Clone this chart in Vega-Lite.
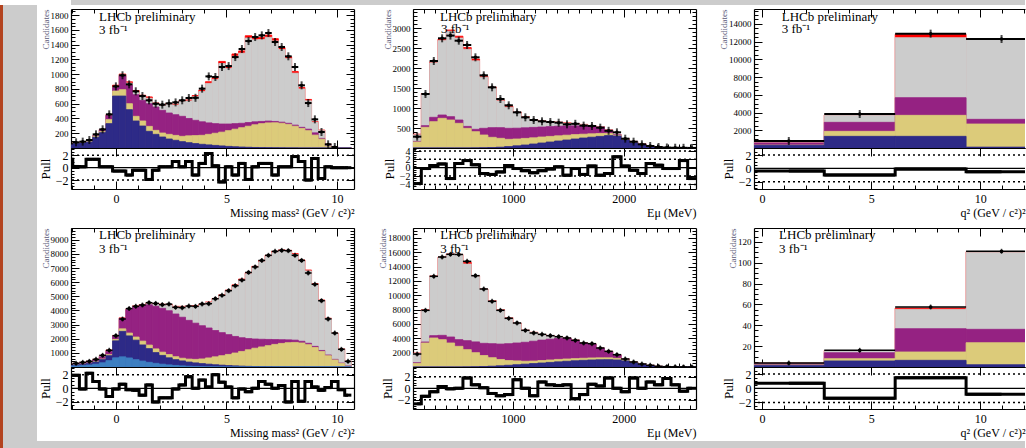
{
"$schema":"https://vega.github.io/schema/vega-lite/v6.json",
"padding":0,
"background":"#ffffff",
"columns":8,
"spacing":0,
"bounds":"flush",
"align":"each",
"config":{
"view":{"stroke":null},
"axis":{"grid":false,"domainColor":"#000000","domainWidth":1.2,"tickColor":"#000000","tickWidth":1,"labelFont":"Liberation Serif","titleFont":"Liberation Serif","labelColor":"#000000","titleColor":"#000000","titleFontWeight":"normal","zindex":1,"labelOverlap":false,"labelFlush":false,"format":"d"},
"text":{"font":"Liberation Serif"}
},
"datasets":{
"L2":[{"yv":-2},{"yv":2}],
"L4":[{"yv":-4},{"yv":-2},{"yv":2},{"yv":4}],
"a":[
{"lo":-2.25,"hi":-1.95,"c":-2.1,"m5":50,"m4":54,"m3":58,"m2":60,"m1":62,"d":62,"u":1.35},
{"lo":-1.95,"hi":-1.65,"c":-1.8,"m5":59,"m4":63,"m3":68,"m2":70,"m1":72,"d":77,"u":0.2},
{"lo":-1.65,"hi":-1.35,"c":-1.5,"m5":68,"m4":72,"m3":78,"m2":80,"m1":82,"d":86,"u":0.15},
{"lo":-1.35,"hi":-1.05,"c":-1.2,"m5":80,"m4":86,"m3":93,"m2":95,"m1":97,"d":108,"u":1.35},
{"lo":-1.05,"hi":-0.75,"c":-0.9,"m5":145,"m4":155,"m3":163,"m2":166,"m1":168,"d":185,"u":1.35},
{"lo":-0.75,"hi":-0.45,"c":-0.6,"m5":208,"m4":222,"m3":245,"m2":248,"m1":251,"d":253,"u":0.15},
{"lo":-0.45,"hi":-0.15,"c":-0.3,"m5":330,"m4":384,"m3":442,"m2":448,"m1":452,"d":456,"u":0.15},
{"lo":-0.15,"hi":0.15,"c":0,"m5":704,"m4":772,"m3":818,"m2":822,"m1":851,"d":835,"u":-0.55},
{"lo":0.15,"hi":0.45,"c":0.3,"m5":704,"m4":790,"m3":984,"m2":990,"m1":1002,"d":985,"u":-0.55},
{"lo":0.45,"hi":0.75,"c":0.6,"m5":519,"m4":600,"m3":848,"m2":880,"m1":897,"d":862,"u":-1.2},
{"lo":0.75,"hi":1.05,"c":0.9,"m5":366,"m4":429,"m3":722,"m2":760,"m1":779,"d":768,"u":-0.4},
{"lo":1.05,"hi":1.35,"c":1.2,"m5":298,"m4":366,"m3":645,"m2":700,"m1":715,"d":704,"u":-0.4},
{"lo":1.35,"hi":1.65,"c":1.5,"m5":226,"m4":293,"m3":600,"m2":675,"m1":692,"d":646,"u":-1.9},
{"lo":1.65,"hi":1.95,"c":1.8,"m5":185,"m4":239,"m3":555,"m2":598,"m1":610,"d":600,"u":-0.4},
{"lo":1.95,"hi":2.25,"c":2.1,"m5":149,"m4":203,"m3":510,"m2":572,"m1":583,"d":587,"u":0.15},
{"lo":2.25,"hi":2.55,"c":2.4,"m5":122,"m4":185,"m3":474,"m2":590,"m1":601,"d":605,"u":0.15},
{"lo":2.55,"hi":2.85,"c":2.7,"m5":104,"m4":171,"m3":451,"m2":582,"m1":593,"d":618,"u":1.0},
{"lo":2.85,"hi":3.15,"c":3.0,"m5":86,"m4":158,"m3":429,"m2":630,"m1":642,"d":646,"u":0.15},
{"lo":3.15,"hi":3.45,"c":3.3,"m5":72,"m4":165,"m3":400,"m2":638,"m1":651,"d":677,"u":1.0},
{"lo":3.45,"hi":3.75,"c":3.6,"m5":60,"m4":168,"m3":375,"m2":695,"m1":711,"d":680,"u":-1.2},
{"lo":3.75,"hi":4.05,"c":3.9,"m5":50,"m4":172,"m3":355,"m2":765,"m1":784,"d":804,"u":0.7},
{"lo":4.05,"hi":4.35,"c":4.2,"m5":42,"m4":185,"m3":340,"m2":876,"m1":898,"d":970,"u":2.3},
{"lo":4.35,"hi":4.65,"c":4.5,"m5":35,"m4":200,"m3":330,"m2":930,"m1":953,"d":962,"u":0.3},
{"lo":4.65,"hi":4.95,"c":4.8,"m5":28,"m4":215,"m3":325,"m2":1145,"m1":1173,"d":1097,"u":-2.3},
{"lo":4.95,"hi":5.25,"c":5.1,"m5":22,"m4":235,"m3":325,"m2":1078,"m1":1105,"d":1110,"u":0.15},
{"lo":5.25,"hi":5.55,"c":5.4,"m5":17,"m4":255,"m3":330,"m2":1244,"m1":1274,"d":1232,"u":-1.2},
{"lo":5.55,"hi":5.85,"c":5.7,"m5":13,"m4":275,"m3":335,"m2":1285,"m1":1315,"d":1341,"u":0.7},
{"lo":5.85,"hi":6.15,"c":6.0,"m5":10,"m4":295,"m3":345,"m2":1490,"m1":1521,"d":1449,"u":-1.9},
{"lo":6.15,"hi":6.45,"c":6.3,"m5":7,"m4":315,"m3":355,"m2":1467,"m1":1497,"d":1503,"u":0.15},
{"lo":6.45,"hi":6.75,"c":6.6,"m5":5,"m4":330,"m3":360,"m2":1469,"m1":1499,"d":1526,"u":0.7},
{"lo":6.75,"hi":7.05,"c":6.9,"m5":4,"m4":340,"m3":365,"m2":1500,"m1":1530,"d":1558,"u":0.7},
{"lo":7.05,"hi":7.35,"c":7.2,"m5":3,"m4":342,"m3":360,"m2":1451,"m1":1481,"d":1436,"u":-1.2},
{"lo":7.35,"hi":7.65,"c":7.5,"m5":2,"m4":335,"m3":350,"m2":1334,"m1":1362,"d":1368,"u":0.15},
{"lo":7.65,"hi":7.95,"c":7.8,"m5":1,"m4":320,"m3":335,"m2":1211,"m1":1237,"d":1242,"u":0.15},
{"lo":7.95,"hi":8.25,"c":8.1,"m5":1,"m4":295,"m3":310,"m2":1014,"m1":1037,"d":1097,"u":1.8},
{"lo":8.25,"hi":8.55,"c":8.4,"m5":0,"m4":265,"m3":280,"m2":800,"m1":820,"d":849,"u":1.0},
{"lo":8.55,"hi":8.85,"c":8.7,"m5":0,"m4":235,"m3":255,"m2":640,"m1":658,"d":609,"u":-2.0},
{"lo":8.85,"hi":9.15,"c":9.0,"m5":0,"m4":175,"m3":205,"m2":350,"m1":358,"d":388,"u":1.5},
{"lo":9.15,"hi":9.45,"c":9.3,"m5":0,"m4":120,"m3":130,"m2":235,"m1":243,"d":217,"u":-1.75},
{"lo":9.45,"hi":9.75,"c":9.6,"m5":0,"m4":20,"m3":25,"m2":48,"m1":50,"d":50,"u":0.15},
{"lo":9.75,"hi":10.05,"c":9.9,"m5":0,"m4":3,"m3":4,"m2":12,"m1":14,"d":14,"u":0},
{"lo":10.05,"hi":10.35,"c":10.2,"m5":0,"m4":0,"m3":0,"m2":2,"m1":2,"d":null,"u":0},
{"lo":10.35,"hi":10.65,"c":10.5,"m5":0,"m4":0,"m3":0,"m2":1,"m1":1,"d":null,"u":0}
],
"b":[
{"lo":100,"hi":175,"c":137.5,"m5":0,"m4":150,"m3":165,"m2":330,"m1":345,"d":283,"u":-3.8},
{"lo":175,"hi":250,"c":212.5,"m5":0,"m4":517,"m3":558,"m2":1345,"m1":1360,"d":1350,"u":-0.2},
{"lo":250,"hi":325,"c":287.5,"m5":0,"m4":658,"m3":767,"m2":2130,"m1":2152,"d":2175,"u":0.5},
{"lo":325,"hi":400,"c":362.5,"m5":0,"m4":742,"m3":825,"m2":2685,"m1":2720,"d":2742,"u":0.9},
{"lo":400,"hi":475,"c":437.5,"m5":0,"m4":700,"m3":783,"m2":2920,"m1":2950,"d":2810,"u":-2.6},
{"lo":475,"hi":550,"c":512.5,"m5":0,"m4":617,"m3":700,"m2":2750,"m1":2795,"d":2683,"u":1.0},
{"lo":550,"hi":625,"c":587.5,"m5":0,"m4":492,"m3":540,"m2":2470,"m1":2510,"d":2575,"u":1.7},
{"lo":625,"hi":700,"c":662.5,"m5":2,"m4":408,"m3":467,"m2":2180,"m1":2225,"d":2267,"u":0.7},
{"lo":700,"hi":775,"c":737.5,"m5":5,"m4":325,"m3":492,"m2":1770,"m1":1790,"d":1817,"u":-1.4},
{"lo":775,"hi":850,"c":812.5,"m5":10,"m4":267,"m3":508,"m2":1500,"m1":1520,"d":1517,"u":-1.6},
{"lo":850,"hi":925,"c":887.5,"m5":20,"m4":242,"m3":508,"m2":1180,"m1":1200,"d":1225,"u":-1.0},
{"lo":925,"hi":1000,"c":962.5,"m5":35,"m4":217,"m3":492,"m2":1020,"m1":1045,"d":1067,"u":0.5},
{"lo":1000,"hi":1075,"c":1037.5,"m5":55,"m4":225,"m3":495,"m2":880,"m1":895,"d":892,"u":-0.2},
{"lo":1075,"hi":1150,"c":1112.5,"m5":75,"m4":240,"m3":505,"m2":770,"m1":780,"d":767,"u":-0.7},
{"lo":1150,"hi":1225,"c":1187.5,"m5":100,"m4":255,"m3":515,"m2":700,"m1":710,"d":700,"u":-1.2},
{"lo":1225,"hi":1300,"c":1262.5,"m5":125,"m4":275,"m3":525,"m2":665,"m1":675,"d":667,"u":-0.7},
{"lo":1300,"hi":1375,"c":1337.5,"m5":150,"m4":290,"m3":535,"m2":650,"m1":660,"d":650,"u":-0.3},
{"lo":1375,"hi":1450,"c":1412.5,"m5":175,"m4":305,"m3":545,"m2":638,"m1":645,"d":633,"u":0.2},
{"lo":1450,"hi":1525,"c":1487.5,"m5":200,"m4":320,"m3":550,"m2":620,"m1":630,"d":592,"u":-1.8},
{"lo":1525,"hi":1600,"c":1562.5,"m5":225,"m4":335,"m3":553,"m2":600,"m1":608,"d":605,"u":-0.2},
{"lo":1600,"hi":1675,"c":1637.5,"m5":250,"m4":345,"m3":552,"m2":580,"m1":590,"d":560,"u":-1.6},
{"lo":1675,"hi":1750,"c":1712.5,"m5":270,"m4":355,"m3":540,"m2":550,"m1":556,"d":550,"u":0.4},
{"lo":1750,"hi":1825,"c":1787.5,"m5":290,"m4":362,"m3":520,"m2":530,"m1":536,"d":508,"u":-1.8},
{"lo":1825,"hi":1900,"c":1862.5,"m5":310,"m4":365,"m3":440,"m2":450,"m1":455,"d":430,"u":-1.4},
{"lo":1900,"hi":1975,"c":1937.5,"m5":300,"m4":315,"m3":330,"m2":336,"m1":340,"d":392,"u":2.6},
{"lo":1975,"hi":2050,"c":2012.5,"m5":200,"m4":207,"m3":225,"m2":235,"m1":238,"d":233,"u":0.4},
{"lo":2050,"hi":2125,"c":2087.5,"m5":130,"m4":135,"m3":150,"m2":162,"m1":165,"d":158,"u":-0.6},
{"lo":2125,"hi":2200,"c":2162.5,"m5":80,"m4":84,"m3":95,"m2":103,"m1":106,"d":92,"u":-1.4},
{"lo":2200,"hi":2275,"c":2237.5,"m5":35,"m4":37,"m3":40,"m2":42,"m1":44,"d":50,"u":1.0},
{"lo":2275,"hi":2350,"c":2312.5,"m5":17,"m4":18,"m3":20,"m2":21,"m1":22,"d":25,"u":0.6},
{"lo":2350,"hi":2425,"c":2387.5,"m5":8,"m4":8,"m3":10,"m2":11,"m1":12,"d":12,"u":-0.2},
{"lo":2425,"hi":2500,"c":2462.5,"m5":4,"m4":4,"m3":5,"m2":6,"m1":7,"d":7,"u":-0.2},
{"lo":2500,"hi":2575,"c":2537.5,"m5":2,"m4":2,"m3":3,"m2":3,"m1":3,"d":5,"u":1.7},
{"lo":2575,"hi":2650,"c":2612.5,"m5":1,"m4":1,"m3":1,"m2":2,"m1":2,"d":2,"u":-2.6}
],
"c":[
{"lo":-0.4,"hi":2.85,"c":1.225,"m5":300,"m4":330,"m3":560,"m2":600,"m1":720,"d":790,"u":-0.4},
{"lo":2.85,"hi":6.1,"c":4.475,"m5":1316,"m4":1880,"m3":2895,"m2":3685,"m1":3720,"d":3835,"u":-1.0},
{"lo":6.1,"hi":9.35,"c":7.725,"m5":1316,"m4":3685,"m3":5680,"m2":12450,"m1":12820,"d":12900,"u":-0.1},
{"lo":9.35,"hi":12.6,"c":10.975,"m5":100,"m4":2707,"m3":3234,"m2":12220,"m1":12280,"d":12295,"u":-0.5}
],
"d":[
{"lo":-2.25,"hi":-1.95,"c":-2.1,"m6":60,"m5":120,"m4":130,"m3":170,"m2":190,"m1":200,"d":200,"u":1.9},
{"lo":-1.95,"hi":-1.65,"c":-1.8,"m6":80,"m5":150,"m4":165,"m3":215,"m2":250,"m1":260,"d":260,"u":1.9},
{"lo":-1.65,"hi":-1.35,"c":-1.5,"m6":100,"m5":190,"m4":205,"m3":275,"m2":315,"m1":325,"d":330,"u":-0.1},
{"lo":-1.35,"hi":-1.05,"c":-1.2,"m6":140,"m5":250,"m4":270,"m3":350,"m2":400,"m1":410,"d":400,"u":2.2},
{"lo":-1.05,"hi":-0.75,"c":-0.9,"m6":200,"m5":350,"m4":380,"m3":480,"m2":530,"m1":545,"d":540,"u":1.0},
{"lo":-0.75,"hi":-0.45,"c":-0.6,"m6":300,"m5":520,"m4":560,"m3":720,"m2":790,"m1":805,"d":825,"u":-0.1},
{"lo":-0.45,"hi":-0.15,"c":-0.3,"m6":450,"m5":800,"m4":870,"m3":1100,"m2":1180,"m1":1200,"d":1180,"u":-1.2},
{"lo":-0.15,"hi":0.15,"c":0,"m6":650,"m5":1850,"m4":1950,"m3":2180,"m2":2200,"m1":2230,"d":2216,"u":-0.1},
{"lo":0.15,"hi":0.45,"c":0.3,"m6":720,"m5":2520,"m4":2700,"m3":3440,"m2":3450,"m1":3480,"d":3395,"u":0.6},
{"lo":0.45,"hi":0.75,"c":0.6,"m6":640,"m5":2200,"m4":2400,"m3":4050,"m2":4080,"m1":4110,"d":4130,"u":-0.2},
{"lo":0.75,"hi":1.05,"c":0.9,"m6":520,"m5":1900,"m4":2120,"m3":4250,"m2":4280,"m1":4320,"d":4290,"u":-0.3},
{"lo":1.05,"hi":1.35,"c":1.2,"m6":420,"m5":1560,"m4":1830,"m3":4350,"m2":4390,"m1":4420,"d":4385,"u":-1.0},
{"lo":1.35,"hi":1.65,"c":1.5,"m6":330,"m5":1300,"m4":1550,"m3":4400,"m2":4480,"m1":4520,"d":4550,"u":0.5},
{"lo":1.65,"hi":1.95,"c":1.8,"m6":260,"m5":1020,"m4":1280,"m3":4300,"m2":4450,"m1":4490,"d":4500,"u":-2.0},
{"lo":1.95,"hi":2.25,"c":2.1,"m6":200,"m5":820,"m4":1050,"m3":4150,"m2":4400,"m1":4440,"d":4410,"u":-1.4},
{"lo":2.25,"hi":2.55,"c":2.4,"m6":150,"m5":650,"m4":880,"m3":3980,"m2":4380,"m1":4420,"d":4450,"u":-1.4},
{"lo":2.55,"hi":2.85,"c":2.7,"m6":110,"m5":520,"m4":730,"m3":3750,"m2":4250,"m1":4290,"d":4220,"u":-0.1},
{"lo":2.85,"hi":3.15,"c":3.0,"m6":80,"m5":430,"m4":620,"m3":3520,"m2":4250,"m1":4290,"d":4200,"u":0.5},
{"lo":3.15,"hi":3.45,"c":3.3,"m6":55,"m5":350,"m4":560,"m3":3300,"m2":4270,"m1":4310,"d":4310,"u":1.7},
{"lo":3.45,"hi":3.75,"c":3.6,"m6":40,"m5":290,"m4":540,"m3":3100,"m2":4300,"m1":4340,"d":4290,"u":0},
{"lo":3.75,"hi":4.05,"c":3.9,"m6":25,"m5":240,"m4":570,"m3":2920,"m2":4400,"m1":4440,"d":4460,"u":1.2},
{"lo":4.05,"hi":4.35,"c":4.2,"m6":15,"m5":200,"m4":640,"m3":2760,"m2":4560,"m1":4600,"d":4480,"u":0.2},
{"lo":4.35,"hi":4.65,"c":4.5,"m6":10,"m5":160,"m4":720,"m3":2580,"m2":4800,"m1":4850,"d":4830,"u":2.0},
{"lo":4.65,"hi":4.95,"c":4.8,"m6":5,"m5":130,"m4":800,"m3":2430,"m2":5050,"m1":5100,"d":5070,"u":0.9},
{"lo":4.95,"hi":5.25,"c":5.1,"m6":0,"m5":100,"m4":890,"m3":2290,"m2":5380,"m1":5440,"d":5400,"u":0.2},
{"lo":5.25,"hi":5.55,"c":5.4,"m6":0,"m5":80,"m4":990,"m3":2160,"m2":5750,"m1":5810,"d":5750,"u":-1.4},
{"lo":5.55,"hi":5.85,"c":5.7,"m6":0,"m5":60,"m4":1100,"m3":2070,"m2":6150,"m1":6220,"d":6150,"u":-0.1},
{"lo":5.85,"hi":6.15,"c":6.0,"m6":0,"m5":45,"m4":1220,"m3":2010,"m2":6600,"m1":6670,"d":6690,"u":-0.5},
{"lo":6.15,"hi":6.45,"c":6.3,"m6":0,"m5":35,"m4":1330,"m3":1980,"m2":7050,"m1":7120,"d":7080,"u":0},
{"lo":6.45,"hi":6.75,"c":6.6,"m6":0,"m5":25,"m4":1420,"m3":1960,"m2":7450,"m1":7530,"d":7540,"u":1.0},
{"lo":6.75,"hi":7.05,"c":6.9,"m6":0,"m5":18,"m4":1510,"m3":1950,"m2":7820,"m1":7900,"d":7900,"u":0.6},
{"lo":7.05,"hi":7.35,"c":7.2,"m6":0,"m5":12,"m4":1600,"m3":1940,"m2":8100,"m1":8180,"d":8180,"u":0},
{"lo":7.35,"hi":7.65,"c":7.5,"m6":0,"m5":8,"m4":1670,"m3":1930,"m2":8200,"m1":8280,"d":8250,"u":0.4},
{"lo":7.65,"hi":7.95,"c":7.8,"m6":0,"m5":5,"m4":1720,"m3":1920,"m2":8180,"m1":8250,"d":8230,"u":-2.0},
{"lo":7.95,"hi":8.25,"c":8.1,"m6":0,"m5":4,"m4":1740,"m3":1900,"m2":7950,"m1":8020,"d":7900,"u":1.0},
{"lo":8.25,"hi":8.55,"c":8.4,"m6":0,"m5":3,"m4":1700,"m3":1820,"m2":7500,"m1":7570,"d":7540,"u":-1.9},
{"lo":8.55,"hi":8.85,"c":8.7,"m6":0,"m5":2,"m4":1580,"m3":1680,"m2":6800,"m1":6860,"d":6650,"u":1.0},
{"lo":8.85,"hi":9.15,"c":9.0,"m6":0,"m5":1,"m4":1380,"m3":1460,"m2":5850,"m1":5900,"d":5850,"u":0.2},
{"lo":9.15,"hi":9.45,"c":9.3,"m6":0,"m5":1,"m4":1100,"m3":1170,"m2":4700,"m1":4740,"d":4690,"u":-0.3},
{"lo":9.45,"hi":9.75,"c":9.6,"m6":0,"m5":0,"m4":800,"m3":850,"m2":3420,"m1":3450,"d":3400,"u":0.1},
{"lo":9.75,"hi":10.05,"c":9.9,"m6":0,"m5":0,"m4":500,"m3":540,"m2":2380,"m1":2400,"d":2400,"u":1.0},
{"lo":10.05,"hi":10.35,"c":10.2,"m6":0,"m5":0,"m4":250,"m3":280,"m2":1280,"m1":1290,"d":1250,"u":-0.2},
{"lo":10.35,"hi":10.65,"c":10.5,"m6":0,"m5":0,"m4":60,"m3":80,"m2":390,"m1":400,"d":400,"u":-1.0}
],
"e":[
{"lo":100,"hi":175,"c":137.5,"m5":0,"m4":500,"m3":600,"m2":1880,"m1":1936,"d":1814,"u":-2.7},
{"lo":175,"hi":250,"c":212.5,"m5":0,"m4":3348,"m3":3488,"m2":7930,"m1":8000,"d":7905,"u":-1.4},
{"lo":250,"hi":325,"c":287.5,"m5":0,"m4":4046,"m3":4371,"m2":12650,"m1":12700,"d":12650,"u":-0.6},
{"lo":325,"hi":400,"c":362.5,"m5":0,"m4":3813,"m3":4418,"m2":15280,"m1":15330,"d":15345,"u":0.3},
{"lo":400,"hi":475,"c":437.5,"m5":0,"m4":3348,"m3":4185,"m2":15700,"m1":15760,"d":15720,"u":-0.1},
{"lo":475,"hi":550,"c":512.5,"m5":0,"m4":2883,"m3":3813,"m2":15650,"m1":15700,"d":15700,"u":0},
{"lo":550,"hi":625,"c":587.5,"m5":10,"m4":2418,"m3":3673,"m2":14370,"m1":14600,"d":14740,"u":1.8},
{"lo":625,"hi":700,"c":662.5,"m5":30,"m4":2000,"m3":3500,"m2":12650,"m1":12720,"d":12740,"u":0.6},
{"lo":700,"hi":775,"c":737.5,"m5":60,"m4":1600,"m3":3300,"m2":10850,"m1":10880,"d":10880,"u":0.1},
{"lo":775,"hi":850,"c":812.5,"m5":110,"m4":1300,"m3":3250,"m2":9200,"m1":9250,"d":9160,"u":-0.9},
{"lo":850,"hi":925,"c":887.5,"m5":170,"m4":1050,"m3":3200,"m2":7950,"m1":8000,"d":7905,"u":-1.3},
{"lo":925,"hi":1000,"c":962.5,"m5":240,"m4":900,"m3":3250,"m2":6850,"m1":6900,"d":6790,"u":-1.1},
{"lo":1000,"hi":1075,"c":1037.5,"m5":320,"m4":850,"m3":3350,"m2":6050,"m1":6100,"d":6140,"u":1.5},
{"lo":1075,"hi":1150,"c":1112.5,"m5":400,"m4":800,"m3":3450,"m2":5100,"m1":5130,"d":5115,"u":0},
{"lo":1150,"hi":1225,"c":1187.5,"m5":480,"m4":830,"m3":3600,"m2":4810,"m1":4840,"d":4745,"u":-1.3},
{"lo":1225,"hi":1300,"c":1262.5,"m5":560,"m4":900,"m3":3750,"m2":4500,"m1":4530,"d":4557,"u":1.1},
{"lo":1300,"hi":1375,"c":1337.5,"m5":640,"m4":980,"m3":3880,"m2":4330,"m1":4360,"d":4371,"u":0.6},
{"lo":1375,"hi":1450,"c":1412.5,"m5":720,"m4":1060,"m3":4000,"m2":4200,"m1":4220,"d":4230,"u":0.5},
{"lo":1450,"hi":1525,"c":1487.5,"m5":800,"m4":1120,"m3":4000,"m2":4020,"m1":4040,"d":4046,"u":0.6},
{"lo":1525,"hi":1600,"c":1562.5,"m5":870,"m4":1170,"m3":3720,"m2":3740,"m1":3760,"d":3720,"u":-1.8},
{"lo":1600,"hi":1675,"c":1637.5,"m5":930,"m4":1220,"m3":3330,"m2":3350,"m1":3370,"d":3348,"u":-1.1},
{"lo":1675,"hi":1750,"c":1712.5,"m5":980,"m4":1260,"m3":3200,"m2":3220,"m1":3235,"d":3255,"u":0.7},
{"lo":1750,"hi":1825,"c":1787.5,"m5":1010,"m4":1280,"m3":2620,"m2":2640,"m1":2650,"d":2650,"u":0.4},
{"lo":1825,"hi":1900,"c":1862.5,"m5":1020,"m4":1280,"m3":2160,"m2":2175,"m1":2185,"d":2185,"u":1.8},
{"lo":1900,"hi":1975,"c":1937.5,"m5":980,"m4":1200,"m3":1700,"m2":1710,"m1":1720,"d":1720,"u":0},
{"lo":1975,"hi":2050,"c":2012.5,"m5":850,"m4":1000,"m3":1100,"m2":1110,"m1":1116,"d":1116,"u":-0.6},
{"lo":2050,"hi":2125,"c":2087.5,"m5":580,"m4":650,"m3":690,"m2":695,"m1":698,"d":698,"u":1.8},
{"lo":2125,"hi":2200,"c":2162.5,"m5":340,"m4":380,"m3":410,"m2":415,"m1":418,"d":418,"u":0},
{"lo":2200,"hi":2275,"c":2237.5,"m5":180,"m4":200,"m3":225,"m2":230,"m1":232,"d":232,"u":1.1},
{"lo":2275,"hi":2350,"c":2312.5,"m5":70,"m4":80,"m3":90,"m2":92,"m1":93,"d":93,"u":0.6},
{"lo":2350,"hi":2425,"c":2387.5,"m5":35,"m4":40,"m3":44,"m2":45,"m1":46,"d":46,"u":1.7},
{"lo":2425,"hi":2500,"c":2462.5,"m5":15,"m4":17,"m3":19,"m2":20,"m1":20,"d":20,"u":0.6},
{"lo":2500,"hi":2575,"c":2537.5,"m5":7,"m4":8,"m3":9,"m2":10,"m1":10,"d":10,"u":-0.5},
{"lo":2575,"hi":2650,"c":2612.5,"m5":3,"m4":4,"m3":4,"m2":5,"m1":5,"d":5,"u":0}
],
"f":[
{"lo":-0.4,"hi":2.85,"c":1.225,"m5":1.5,"m4":2,"m3":3,"m2":3.5,"m1":3.7,"d":3.8,"u":0.7},
{"lo":2.85,"hi":6.1,"c":4.475,"m5":5.8,"m4":8,"m3":13.7,"m2":15.5,"m1":15.8,"d":16,"u":-1.4},
{"lo":6.1,"hi":9.35,"c":7.725,"m5":6.4,"m4":14.4,"m3":36.7,"m2":55.3,"m1":56.5,"d":57.5,"u":1.5},
{"lo":9.35,"hi":12.6,"c":10.975,"m5":2.2,"m4":23.3,"m3":36.1,"m2":110,"m1":110.5,"d":110.9,"u":-0.85}
]
},
"concat":[
{"width":3,"height":5,"data":{"values":[]},"mark":"point"},
{"width":34,"height":5,"data":{"values":[]},"mark":"point"},
{"width":34,"height":5,"data":{"values":[]},"mark":"point"},
{"width":283,"height":5,"data":{"values":[]},"mark":"point","view":{"fill":"#cccccc"}},
{"width":59,"height":5,"data":{"values":[]},"mark":"point","view":{"fill":"#cccccc"}},
{"width":283,"height":5,"data":{"values":[]},"mark":"point","view":{"fill":"#cccccc"}},
{"width":58,"height":5,"data":{"values":[]},"mark":"point","view":{"fill":"#cccccc"}},
{"width":271,"height":5,"data":{"values":[]},"mark":"point","view":{"fill":"#cccccc"}},

{"width":3,"height":4,"data":{"values":[]},"mark":"point","view":{"fill":"#b3431f"}},
{"width":34,"height":4,"data":{"values":[]},"mark":"point","view":{"fill":"#cccccc"}},
{"width":34,"height":4,"data":{"values":[]},"mark":"point"},
{"width":283,"height":4,"data":{"values":[]},"mark":"point"},
{"width":59,"height":4,"data":{"values":[]},"mark":"point"},
{"width":283,"height":4,"data":{"values":[]},"mark":"point"},
{"width":58,"height":4,"data":{"values":[]},"mark":"point"},
{"width":271,"height":4,"data":{"values":[]},"mark":"point"},

{"width":3,"height":139,"data":{"values":[]},"mark":"point","view":{"fill":"#b3431f"}},
{"width":34,"height":139,"data":{"values":[]},"mark":"point","view":{"fill":"#cccccc"}},
{"width":34,"height":139,"data":{"values":[]},"mark":"point"},
{"width":283,"height":139,"data":{"name":"a"},"resolve":{"axis":{"x":"independent","y":"independent"}},"layer":[
{"transform":[{"fold":["m1","m2","m3","m4","m5"],"as":["k","v"]}],"mark":{"type":"bar","clip":true,"strokeWidth":0.8},"encoding":{"x":{"field":"lo","type":"quantitative","scale":{"domain":[-2.03,10.77],"nice":false,"zero":false},"axis":{"orient":"bottom","values":[0,5,10],"labels":false,"tickSize":-8,"title":null}},"x2":{"field":"hi"},"y":{"field":"v","type":"quantitative","stack":null,"scale":{"domain":[0,1883],"nice":false,"zero":false},"axis":{"orient":"left","values":[200,400,600,800,1000,1200,1400,1600,1800],"tickSize":-8,"labelPadding":11,"labelFontSize":9,"title":"Candidates","titleFontSize":9,"titleColor":"#5a5a78","titleAnchor":"end","titlePadding":0}},"y2":{"datum":0},"order":{"field":"k","type":"ordinal"},"color":{"field":"k","type":"nominal","scale":{"domain":["m1","m2","m3","m4","m5","m6"],"range":["#ff0000","#cccccc","#952282","#dccb7a","#2d2a87","#3d7fc1"]},"legend":null},"stroke":{"field":"k","type":"nominal","scale":{"domain":["m1","m2","m3","m4","m5","m6"],"range":["#ff0000","#cccccc","#952282","#dccb7a","#2d2a87","#3d7fc1"]},"legend":null}}},
{"mark":{"type":"rule","clip":true,"strokeWidth":2,"color":"#000000"},"encoding":{"x":{"field":"lo","type":"quantitative","scale":{"domain":[-2.03,10.77],"nice":false,"zero":false},"axis":{"orient":"top","values":[0,5,10],"labels":false,"tickSize":-8,"title":null}},"x2":{"field":"hi"},"y":{"field":"d","type":"quantitative","scale":{"domain":[0,1883],"nice":false,"zero":false},"axis":{"orient":"right","values":[200,400,600,800,1000,1200,1400,1600,1800],"labels":false,"tickSize":-8,"title":null}}}},
{"mark":{"type":"tick","orient":"vertical","clip":true,"size":8,"thickness":2,"color":"#000000"},"encoding":{"x":{"field":"c","type":"quantitative","scale":{"domain":[-2.03,10.77],"nice":false,"zero":false},"axis":{"orient":"bottom","tickCount":13,"labels":false,"domain":false,"tickSize":-4,"title":null}},"y":{"field":"d","type":"quantitative","scale":{"domain":[0,1883],"nice":false,"zero":false},"axis":{"orient":"left","tickCount":40,"labels":false,"domain":false,"tickSize":-4,"title":null}}}},
{"mark":{"type":"point","filled":true,"clip":true,"size":10,"opacity":1,"color":"#000000"},"encoding":{"x":{"field":"c","type":"quantitative","scale":{"domain":[-2.03,10.77],"nice":false,"zero":false},"axis":{"orient":"top","tickCount":13,"labels":false,"domain":false,"tickSize":-4,"title":null}},"y":{"field":"d","type":"quantitative","scale":{"domain":[0,1883],"nice":false,"zero":false},"axis":{"orient":"right","tickCount":40,"labels":false,"domain":false,"tickSize":-4,"title":null}}}},
{"data":{"values":[{}]},"mark":{"type":"text","text":"LHCb preliminary","align":"left","baseline":"alphabetic","fontSize":13},"encoding":{"x":{"datum":-0.76,"type":"quantitative","scale":{"domain":[-2.03,10.77],"nice":false,"zero":false},"axis":null},"y":{"datum":1716,"type":"quantitative","scale":{"domain":[0,1883],"nice":false,"zero":false},"axis":null}}},
{"data":{"values":[{}]},"mark":{"type":"text","text":"3 fb⁻¹","align":"left","baseline":"alphabetic","fontSize":13},"encoding":{"x":{"datum":-0.76,"type":"quantitative","scale":{"domain":[-2.03,10.77],"nice":false,"zero":false},"axis":null},"y":{"datum":1540,"type":"quantitative","scale":{"domain":[0,1883],"nice":false,"zero":false},"axis":null}}}
]},
{"width":59,"height":139,"data":{"values":[]},"mark":"point"},
{"width":283,"height":139,"data":{"name":"b"},"resolve":{"axis":{"x":"independent","y":"independent"}},"layer":[
{"transform":[{"fold":["m1","m2","m3","m4","m5"],"as":["k","v"]}],"mark":{"type":"bar","clip":true,"strokeWidth":0.8},"encoding":{"x":{"field":"lo","type":"quantitative","scale":{"domain":[100,2650],"nice":false,"zero":false},"axis":{"orient":"bottom","values":[1000,2000],"labels":false,"tickSize":-8,"title":null}},"x2":{"field":"hi"},"y":{"field":"v","type":"quantitative","stack":null,"scale":{"domain":[0,3475],"nice":false,"zero":false},"axis":{"orient":"left","values":[500,1000,1500,2000,2500,3000],"tickSize":-8,"labelPadding":11,"labelFontSize":9,"title":"Candidates","titleFontSize":9,"titleColor":"#5a5a78","titleAnchor":"end","titlePadding":0}},"y2":{"datum":0},"order":{"field":"k","type":"ordinal"},"color":{"field":"k","type":"nominal","scale":{"domain":["m1","m2","m3","m4","m5","m6"],"range":["#ff0000","#cccccc","#952282","#dccb7a","#2d2a87","#3d7fc1"]},"legend":null},"stroke":{"field":"k","type":"nominal","scale":{"domain":["m1","m2","m3","m4","m5","m6"],"range":["#ff0000","#cccccc","#952282","#dccb7a","#2d2a87","#3d7fc1"]},"legend":null}}},
{"mark":{"type":"rule","clip":true,"strokeWidth":2,"color":"#000000"},"encoding":{"x":{"field":"lo","type":"quantitative","scale":{"domain":[100,2650],"nice":false,"zero":false},"axis":{"orient":"top","values":[1000,2000],"labels":false,"tickSize":-8,"title":null}},"x2":{"field":"hi"},"y":{"field":"d","type":"quantitative","scale":{"domain":[0,3475],"nice":false,"zero":false},"axis":{"orient":"right","values":[500,1000,1500,2000,2500,3000],"labels":false,"tickSize":-8,"title":null}}}},
{"mark":{"type":"tick","orient":"vertical","clip":true,"size":8,"thickness":2,"color":"#000000"},"encoding":{"x":{"field":"c","type":"quantitative","scale":{"domain":[100,2650],"nice":false,"zero":false},"axis":{"orient":"bottom","tickCount":26,"labels":false,"domain":false,"tickSize":-4,"title":null}},"y":{"field":"d","type":"quantitative","scale":{"domain":[0,3475],"nice":false,"zero":false},"axis":{"orient":"left","tickCount":35,"labels":false,"domain":false,"tickSize":-4,"title":null}}}},
{"mark":{"type":"point","filled":true,"clip":true,"size":12,"opacity":1,"color":"#000000"},"encoding":{"x":{"field":"c","type":"quantitative","scale":{"domain":[100,2650],"nice":false,"zero":false},"axis":{"orient":"top","tickCount":26,"labels":false,"domain":false,"tickSize":-4,"title":null}},"y":{"field":"d","type":"quantitative","scale":{"domain":[0,3475],"nice":false,"zero":false},"axis":{"orient":"right","tickCount":35,"labels":false,"domain":false,"tickSize":-4,"title":null}}}},
{"data":{"values":[{}]},"mark":{"type":"text","text":"LHCb preliminary","align":"left","baseline":"alphabetic","fontSize":13},"encoding":{"x":{"datum":343,"type":"quantitative","scale":{"domain":[100,2650],"nice":false,"zero":false},"axis":null},"y":{"datum":3175,"type":"quantitative","scale":{"domain":[0,3475],"nice":false,"zero":false},"axis":null}}},
{"data":{"values":[{}]},"mark":{"type":"text","text":"3 fb⁻¹","align":"left","baseline":"alphabetic","fontSize":13},"encoding":{"x":{"datum":352,"type":"quantitative","scale":{"domain":[100,2650],"nice":false,"zero":false},"axis":null},"y":{"datum":2867,"type":"quantitative","scale":{"domain":[0,3475],"nice":false,"zero":false},"axis":null}}}
]},
{"width":58,"height":139,"data":{"values":[]},"mark":"point"},
{"width":271,"height":139,"data":{"name":"c"},"resolve":{"axis":{"x":"independent","y":"independent"}},"layer":[
{"transform":[{"fold":["m1","m2","m3","m4","m5"],"as":["k","v"]}],"mark":{"type":"bar","clip":true,"strokeWidth":0.8},"encoding":{"x":{"field":"lo","type":"quantitative","scale":{"domain":[-0.37,12.05],"nice":false,"zero":false},"axis":{"orient":"bottom","values":[0,5,10],"labels":false,"tickSize":-8,"title":null}},"x2":{"field":"hi"},"y":{"field":"v","type":"quantitative","stack":null,"scale":{"domain":[0,15680],"nice":false,"zero":false},"axis":{"orient":"left","values":[2000,4000,6000,8000,10000,12000,14000],"tickSize":-8,"labelPadding":11,"labelFontSize":9,"title":"Candidates","titleFontSize":9,"titleColor":"#5a5a78","titleAnchor":"end","titlePadding":0}},"y2":{"datum":0},"order":{"field":"k","type":"ordinal"},"color":{"field":"k","type":"nominal","scale":{"domain":["m1","m2","m3","m4","m5","m6"],"range":["#ff0000","#cccccc","#952282","#dccb7a","#2d2a87","#3d7fc1"]},"legend":null},"stroke":{"field":"k","type":"nominal","scale":{"domain":["m1","m2","m3","m4","m5","m6"],"range":["#ff0000","#cccccc","#952282","#dccb7a","#2d2a87","#3d7fc1"]},"legend":null}}},
{"mark":{"type":"rule","clip":true,"strokeWidth":2,"color":"#000000"},"encoding":{"x":{"field":"lo","type":"quantitative","scale":{"domain":[-0.37,12.05],"nice":false,"zero":false},"axis":{"orient":"top","values":[0,5,10],"labels":false,"tickSize":-8,"title":null}},"x2":{"field":"hi"},"y":{"field":"d","type":"quantitative","scale":{"domain":[0,15680],"nice":false,"zero":false},"axis":null}}},
{"mark":{"type":"tick","orient":"vertical","clip":true,"size":8,"thickness":2,"color":"#000000"},"encoding":{"x":{"field":"c","type":"quantitative","scale":{"domain":[-0.37,12.05],"nice":false,"zero":false},"axis":{"orient":"bottom","tickCount":12,"labels":false,"domain":false,"tickSize":-4,"title":null}},"y":{"field":"d","type":"quantitative","scale":{"domain":[0,15680],"nice":false,"zero":false},"axis":{"orient":"left","tickCount":40,"labels":false,"domain":false,"tickSize":-4,"title":null}}}},
{"mark":{"type":"point","filled":true,"clip":true,"size":12,"opacity":1,"color":"#000000"},"encoding":{"x":{"field":"c","type":"quantitative","scale":{"domain":[-0.37,12.05],"nice":false,"zero":false},"axis":{"orient":"top","tickCount":12,"labels":false,"domain":false,"tickSize":-4,"title":null}},"y":{"field":"d","type":"quantitative","scale":{"domain":[0,15680],"nice":false,"zero":false},"axis":null}}},
{"data":{"values":[{}]},"mark":{"type":"text","text":"LHCb preliminary","align":"left","baseline":"alphabetic","fontSize":13},"encoding":{"x":{"datum":0.9,"type":"quantitative","scale":{"domain":[-0.37,12.05],"nice":false,"zero":false},"axis":null},"y":{"datum":14326,"type":"quantitative","scale":{"domain":[0,15680],"nice":false,"zero":false},"axis":null}}},
{"data":{"values":[{}]},"mark":{"type":"text","text":"3 fb⁻¹","align":"left","baseline":"alphabetic","fontSize":13},"encoding":{"x":{"datum":0.9,"type":"quantitative","scale":{"domain":[-0.37,12.05],"nice":false,"zero":false},"axis":null},"y":{"datum":12938,"type":"quantitative","scale":{"domain":[0,15680],"nice":false,"zero":false},"axis":null}}}
]},

{"width":3,"height":41,"data":{"values":[]},"mark":"point","view":{"fill":"#b3431f"}},
{"width":34,"height":41,"data":{"values":[]},"mark":"point","view":{"fill":"#cccccc"}},
{"width":34,"height":41,"data":{"values":[]},"mark":"point"},
{"width":283,"height":41,"data":{"name":"a"},"resolve":{"axis":{"x":"independent","y":"independent"}},"layer":[
{"data":{"name":"L2"},"mark":{"type":"rule","strokeDash":[2,3],"strokeWidth":1.5,"color":"#000000"},"encoding":{"y":{"field":"yv","type":"quantitative","scale":{"domain":[-3.45,3.19],"nice":false,"zero":false},"axis":null}}},
{"data":{"values":[{}]},"mark":{"type":"rule","strokeWidth":1.3,"color":"#000000"},"encoding":{"y":{"datum":0,"type":"quantitative","scale":{"domain":[-3.45,3.19],"nice":false,"zero":false},"axis":null}}},
{"mark":{"type":"rule","clip":true,"strokeWidth":3,"color":"#000000"},"encoding":{"x":{"field":"lo","type":"quantitative","scale":{"domain":[-2.03,10.77],"nice":false,"zero":false},"axis":{"orient":"bottom","values":[0,5,10],"tickSize":-8,"labelPadding":12,"labelFontSize":12,"title":"Missing mass² (GeV / c²)²","titleFontSize":12,"titleAnchor":"end","titlePadding":3}},"x2":{"field":"hi"},"y":{"field":"u","type":"quantitative","scale":{"domain":[-3.45,3.19],"nice":false,"zero":false},"axis":{"orient":"left","values":[-2,0,2],"tickSize":-8,"labelPadding":11,"labelFontSize":12,"title":"Pull","titleFontSize":13,"titlePadding":3}}}},
{"mark":{"type":"line","interpolate":"step","clip":true,"strokeWidth":3,"color":"#000000"},"encoding":{"x":{"field":"c","type":"quantitative","scale":{"domain":[-2.03,10.77],"nice":false,"zero":false},"axis":{"orient":"top","values":[0,5,10],"labels":false,"tickSize":-8,"title":null}},"y":{"field":"u","type":"quantitative","scale":{"domain":[-3.45,3.19],"nice":false,"zero":false},"axis":{"orient":"right","values":[-2,0,2],"labels":false,"tickSize":-8,"title":null}}}},
{"mark":{"type":"tick","opacity":0},"encoding":{"x":{"field":"c","type":"quantitative","scale":{"domain":[-2.03,10.77],"nice":false,"zero":false},"axis":{"orient":"bottom","tickCount":13,"labels":false,"domain":false,"tickSize":-4,"title":null}},"y":{"field":"u","type":"quantitative","scale":{"domain":[-3.45,3.19],"nice":false,"zero":false},"axis":{"orient":"left","tickCount":14,"labels":false,"domain":false,"tickSize":-3,"title":null}}}}
]},
{"width":59,"height":41,"data":{"values":[]},"mark":"point"},
{"width":283,"height":41,"data":{"name":"b"},"resolve":{"axis":{"x":"independent","y":"independent"}},"layer":[
{"data":{"name":"L4"},"mark":{"type":"rule","strokeDash":[2,3],"strokeWidth":1.5,"color":"#000000"},"encoding":{"y":{"field":"yv","type":"quantitative","scale":{"domain":[-5.1,4.72],"nice":false,"zero":false},"axis":null}}},
{"data":{"values":[{}]},"mark":{"type":"rule","strokeWidth":1.3,"color":"#000000"},"encoding":{"y":{"datum":0,"type":"quantitative","scale":{"domain":[-5.1,4.72],"nice":false,"zero":false},"axis":null}}},
{"mark":{"type":"rule","clip":true,"strokeWidth":3,"color":"#000000"},"encoding":{"x":{"field":"lo","type":"quantitative","scale":{"domain":[100,2650],"nice":false,"zero":false},"axis":{"orient":"bottom","values":[1000,2000],"tickSize":-8,"labelPadding":12,"labelFontSize":12,"title":"Eμ (MeV)","titleFontSize":12,"titleAnchor":"end","titlePadding":3}},"x2":{"field":"hi"},"y":{"field":"u","type":"quantitative","scale":{"domain":[-5.1,4.72],"nice":false,"zero":false},"axis":{"orient":"left","values":[-4,-2,0,2,4],"tickSize":-8,"labelPadding":11,"labelFontSize":10,"title":"Pull","titleFontSize":13,"titlePadding":3}}}},
{"mark":{"type":"line","interpolate":"step","clip":true,"strokeWidth":3,"color":"#000000"},"encoding":{"x":{"field":"c","type":"quantitative","scale":{"domain":[100,2650],"nice":false,"zero":false},"axis":{"orient":"top","values":[1000,2000],"labels":false,"tickSize":-8,"title":null}},"y":{"field":"u","type":"quantitative","scale":{"domain":[-5.1,4.72],"nice":false,"zero":false},"axis":{"orient":"right","values":[-4,-2,0,2,4],"labels":false,"tickSize":-8,"title":null}}}},
{"mark":{"type":"tick","opacity":0},"encoding":{"x":{"field":"c","type":"quantitative","scale":{"domain":[100,2650],"nice":false,"zero":false},"axis":{"orient":"bottom","tickCount":26,"labels":false,"domain":false,"tickSize":-4,"title":null}},"y":{"field":"u","type":"quantitative","scale":{"domain":[-5.1,4.72],"nice":false,"zero":false},"axis":{"orient":"left","tickCount":20,"labels":false,"domain":false,"tickSize":-3,"title":null}}}}
]},
{"width":58,"height":41,"data":{"values":[]},"mark":"point"},
{"width":271,"height":41,"data":{"name":"c"},"resolve":{"axis":{"x":"independent","y":"independent"}},"layer":[
{"data":{"name":"L2"},"mark":{"type":"rule","strokeDash":[2,3],"strokeWidth":1.5,"color":"#000000"},"encoding":{"y":{"field":"yv","type":"quantitative","scale":{"domain":[-3.1,3.05],"nice":false,"zero":false},"axis":null}}},
{"data":{"values":[{}]},"mark":{"type":"rule","strokeWidth":1.3,"color":"#000000"},"encoding":{"y":{"datum":0,"type":"quantitative","scale":{"domain":[-3.1,3.05],"nice":false,"zero":false},"axis":null}}},
{"mark":{"type":"rule","clip":true,"strokeWidth":3,"color":"#000000"},"encoding":{"x":{"field":"lo","type":"quantitative","scale":{"domain":[-0.37,12.05],"nice":false,"zero":false},"axis":{"orient":"bottom","values":[0,5,10],"tickSize":-8,"labelPadding":12,"labelFontSize":12,"title":"q² (GeV / c²)²","titleFontSize":12,"titleAnchor":"end","titlePadding":3}},"x2":{"field":"hi"},"y":{"field":"u","type":"quantitative","scale":{"domain":[-3.1,3.05],"nice":false,"zero":false},"axis":{"orient":"left","values":[-2,0,2],"tickSize":-8,"labelPadding":11,"labelFontSize":12,"title":"Pull","titleFontSize":13,"titlePadding":3}}}},
{"mark":{"type":"line","interpolate":"step","clip":true,"strokeWidth":3,"color":"#000000"},"encoding":{"x":{"field":"c","type":"quantitative","scale":{"domain":[-0.37,12.05],"nice":false,"zero":false},"axis":{"orient":"top","values":[0,5,10],"labels":false,"tickSize":-8,"title":null}},"y":{"field":"u","type":"quantitative","scale":{"domain":[-3.1,3.05],"nice":false,"zero":false},"axis":null}}},
{"mark":{"type":"tick","opacity":0},"encoding":{"x":{"field":"c","type":"quantitative","scale":{"domain":[-0.37,12.05],"nice":false,"zero":false},"axis":{"orient":"bottom","tickCount":12,"labels":false,"domain":false,"tickSize":-4,"title":null}},"y":{"field":"u","type":"quantitative","scale":{"domain":[-3.1,3.05],"nice":false,"zero":false},"axis":{"orient":"left","tickCount":12,"labels":false,"domain":false,"tickSize":-3,"title":null}}}}
]},

{"width":3,"height":39,"data":{"values":[]},"mark":"point","view":{"fill":"#b3431f"}},
{"width":34,"height":39,"data":{"values":[]},"mark":"point","view":{"fill":"#cccccc"}},
{"width":34,"height":39,"data":{"values":[]},"mark":"point"},
{"width":283,"height":39,"data":{"values":[]},"mark":"point"},
{"width":59,"height":39,"data":{"values":[]},"mark":"point"},
{"width":283,"height":39,"data":{"values":[]},"mark":"point"},
{"width":58,"height":39,"data":{"values":[]},"mark":"point"},
{"width":271,"height":39,"data":{"values":[]},"mark":"point"},

{"width":3,"height":139,"data":{"values":[]},"mark":"point","view":{"fill":"#b3431f"}},
{"width":34,"height":139,"data":{"values":[]},"mark":"point","view":{"fill":"#cccccc"}},
{"width":34,"height":139,"data":{"values":[]},"mark":"point"},
{"width":283,"height":139,"data":{"name":"d"},"resolve":{"axis":{"x":"independent","y":"independent"}},"layer":[
{"transform":[{"fold":["m1","m2","m3","m4","m5","m6"],"as":["k","v"]}],"mark":{"type":"bar","clip":true,"strokeWidth":0.8},"encoding":{"x":{"field":"lo","type":"quantitative","scale":{"domain":[-2.03,10.77],"nice":false,"zero":false},"axis":{"orient":"bottom","values":[0,5,10],"labels":false,"tickSize":-8,"title":null}},"x2":{"field":"hi"},"y":{"field":"v","type":"quantitative","stack":null,"scale":{"domain":[0,9833],"nice":false,"zero":false},"axis":{"orient":"left","values":[1000,2000,3000,4000,5000,6000,7000,8000,9000],"tickSize":-8,"labelPadding":11,"labelFontSize":9,"title":"Candidates","titleFontSize":9,"titleColor":"#5a5a78","titleAnchor":"end","titlePadding":0}},"y2":{"datum":0},"order":{"field":"k","type":"ordinal"},"color":{"field":"k","type":"nominal","scale":{"domain":["m1","m2","m3","m4","m5","m6"],"range":["#ff0000","#cccccc","#952282","#dccb7a","#2d2a87","#3d7fc1"]},"legend":null},"stroke":{"field":"k","type":"nominal","scale":{"domain":["m1","m2","m3","m4","m5","m6"],"range":["#ff0000","#cccccc","#952282","#dccb7a","#2d2a87","#3d7fc1"]},"legend":null}}},
{"mark":{"type":"rule","clip":true,"strokeWidth":1.5,"color":"#000000"},"encoding":{"x":{"field":"lo","type":"quantitative","scale":{"domain":[-2.03,10.77],"nice":false,"zero":false},"axis":{"orient":"top","values":[0,5,10],"labels":false,"tickSize":-8,"title":null}},"x2":{"field":"hi"},"y":{"field":"d","type":"quantitative","scale":{"domain":[0,9833],"nice":false,"zero":false},"axis":{"orient":"right","values":[1000,2000,3000,4000,5000,6000,7000,8000,9000],"labels":false,"tickSize":-8,"title":null}}}},
{"mark":{"type":"tick","orient":"vertical","clip":true,"size":5,"thickness":1.5,"color":"#000000"},"encoding":{"x":{"field":"c","type":"quantitative","scale":{"domain":[-2.03,10.77],"nice":false,"zero":false},"axis":{"orient":"bottom","tickCount":13,"labels":false,"domain":false,"tickSize":-4,"title":null}},"y":{"field":"d","type":"quantitative","scale":{"domain":[0,9833],"nice":false,"zero":false},"axis":{"orient":"left","tickCount":50,"labels":false,"domain":false,"tickSize":-4,"title":null}}}},
{"mark":{"type":"point","filled":true,"clip":true,"size":14,"opacity":1,"color":"#000000"},"encoding":{"x":{"field":"c","type":"quantitative","scale":{"domain":[-2.03,10.77],"nice":false,"zero":false},"axis":{"orient":"top","tickCount":13,"labels":false,"domain":false,"tickSize":-4,"title":null}},"y":{"field":"d","type":"quantitative","scale":{"domain":[0,9833],"nice":false,"zero":false},"axis":{"orient":"right","tickCount":50,"labels":false,"domain":false,"tickSize":-4,"title":null}}}},
{"data":{"values":[{}]},"mark":{"type":"text","text":"LHCb preliminary","align":"left","baseline":"alphabetic","fontSize":13},"encoding":{"x":{"datum":-0.76,"type":"quantitative","scale":{"domain":[-2.03,10.77],"nice":false,"zero":false},"axis":null},"y":{"datum":9055,"type":"quantitative","scale":{"domain":[0,9833],"nice":false,"zero":false},"axis":null}}},
{"data":{"values":[{}]},"mark":{"type":"text","text":"3 fb⁻¹","align":"left","baseline":"alphabetic","fontSize":13},"encoding":{"x":{"datum":-0.76,"type":"quantitative","scale":{"domain":[-2.03,10.77],"nice":false,"zero":false},"axis":null},"y":{"datum":8043,"type":"quantitative","scale":{"domain":[0,9833],"nice":false,"zero":false},"axis":null}}}
]},
{"width":59,"height":139,"data":{"values":[]},"mark":"point"},
{"width":283,"height":139,"data":{"name":"e"},"resolve":{"axis":{"x":"independent","y":"independent"}},"layer":[
{"transform":[{"fold":["m1","m2","m3","m4","m5"],"as":["k","v"]}],"mark":{"type":"bar","clip":true,"strokeWidth":0.8},"encoding":{"x":{"field":"lo","type":"quantitative","scale":{"domain":[100,2650],"nice":false,"zero":false},"axis":{"orient":"bottom","values":[1000,2000],"labels":false,"tickSize":-8,"title":null}},"x2":{"field":"hi"},"y":{"field":"v","type":"quantitative","stack":null,"scale":{"domain":[0,19390],"nice":false,"zero":false},"axis":{"orient":"left","values":[2000,4000,6000,8000,10000,12000,14000,16000,18000],"tickSize":-8,"labelPadding":11,"labelFontSize":9,"title":"Candidates","titleFontSize":9,"titleColor":"#5a5a78","titleAnchor":"end","titlePadding":0}},"y2":{"datum":0},"order":{"field":"k","type":"ordinal"},"color":{"field":"k","type":"nominal","scale":{"domain":["m1","m2","m3","m4","m5","m6"],"range":["#ff0000","#cccccc","#952282","#dccb7a","#2d2a87","#3d7fc1"]},"legend":null},"stroke":{"field":"k","type":"nominal","scale":{"domain":["m1","m2","m3","m4","m5","m6"],"range":["#ff0000","#cccccc","#952282","#dccb7a","#2d2a87","#3d7fc1"]},"legend":null}}},
{"mark":{"type":"rule","clip":true,"strokeWidth":1.5,"color":"#000000"},"encoding":{"x":{"field":"lo","type":"quantitative","scale":{"domain":[100,2650],"nice":false,"zero":false},"axis":{"orient":"top","values":[1000,2000],"labels":false,"tickSize":-8,"title":null}},"x2":{"field":"hi"},"y":{"field":"d","type":"quantitative","scale":{"domain":[0,19390],"nice":false,"zero":false},"axis":{"orient":"right","values":[2000,4000,6000,8000,10000,12000,14000,16000,18000],"labels":false,"tickSize":-8,"title":null}}}},
{"mark":{"type":"tick","orient":"vertical","clip":true,"size":5,"thickness":1.5,"color":"#000000"},"encoding":{"x":{"field":"c","type":"quantitative","scale":{"domain":[100,2650],"nice":false,"zero":false},"axis":{"orient":"bottom","tickCount":26,"labels":false,"domain":false,"tickSize":-4,"title":null}},"y":{"field":"d","type":"quantitative","scale":{"domain":[0,19390],"nice":false,"zero":false},"axis":{"orient":"left","tickCount":40,"labels":false,"domain":false,"tickSize":-4,"title":null}}}},
{"mark":{"type":"point","filled":true,"clip":true,"size":14,"opacity":1,"color":"#000000"},"encoding":{"x":{"field":"c","type":"quantitative","scale":{"domain":[100,2650],"nice":false,"zero":false},"axis":{"orient":"top","tickCount":26,"labels":false,"domain":false,"tickSize":-4,"title":null}},"y":{"field":"d","type":"quantitative","scale":{"domain":[0,19390],"nice":false,"zero":false},"axis":{"orient":"right","tickCount":40,"labels":false,"domain":false,"tickSize":-4,"title":null}}}},
{"data":{"values":[{}]},"mark":{"type":"text","text":"LHCb preliminary","align":"left","baseline":"alphabetic","fontSize":13},"encoding":{"x":{"datum":345,"type":"quantitative","scale":{"domain":[100,2650],"nice":false,"zero":false},"axis":null},"y":{"datum":17856,"type":"quantitative","scale":{"domain":[0,19390],"nice":false,"zero":false},"axis":null}}},
{"data":{"values":[{}]},"mark":{"type":"text","text":"3 fb⁻¹","align":"left","baseline":"alphabetic","fontSize":13},"encoding":{"x":{"datum":345,"type":"quantitative","scale":{"domain":[100,2650],"nice":false,"zero":false},"axis":null},"y":{"datum":15861,"type":"quantitative","scale":{"domain":[0,19390],"nice":false,"zero":false},"axis":null}}}
]},
{"width":58,"height":139,"data":{"values":[]},"mark":"point"},
{"width":271,"height":139,"data":{"name":"f"},"resolve":{"axis":{"x":"independent","y":"independent"}},"layer":[
{"transform":[{"fold":["m1","m2","m3","m4","m5"],"as":["k","v"]}],"mark":{"type":"bar","clip":true,"strokeWidth":0.8},"encoding":{"x":{"field":"lo","type":"quantitative","scale":{"domain":[-0.37,12.05],"nice":false,"zero":false},"axis":{"orient":"bottom","values":[0,5,10],"labels":false,"tickSize":-8,"title":null}},"x2":{"field":"hi"},"y":{"field":"v","type":"quantitative","stack":null,"scale":{"domain":[0,133.2],"nice":false,"zero":false},"axis":{"orient":"left","values":[20,40,60,80,100,120],"tickSize":-8,"labelPadding":11,"labelFontSize":9,"title":"Candidates","titleFontSize":9,"titleColor":"#5a5a78","titleAnchor":"end","titlePadding":0}},"y2":{"datum":0},"order":{"field":"k","type":"ordinal"},"color":{"field":"k","type":"nominal","scale":{"domain":["m1","m2","m3","m4","m5","m6"],"range":["#ff0000","#cccccc","#952282","#dccb7a","#2d2a87","#3d7fc1"]},"legend":null},"stroke":{"field":"k","type":"nominal","scale":{"domain":["m1","m2","m3","m4","m5","m6"],"range":["#ff0000","#cccccc","#952282","#dccb7a","#2d2a87","#3d7fc1"]},"legend":null}}},
{"mark":{"type":"rule","clip":true,"strokeWidth":1.5,"color":"#000000"},"encoding":{"x":{"field":"lo","type":"quantitative","scale":{"domain":[-0.37,12.05],"nice":false,"zero":false},"axis":{"orient":"top","values":[0,5,10],"labels":false,"tickSize":-8,"title":null}},"x2":{"field":"hi"},"y":{"field":"d","type":"quantitative","scale":{"domain":[0,133.2],"nice":false,"zero":false},"axis":null}}},
{"mark":{"type":"tick","orient":"vertical","clip":true,"size":5,"thickness":1.5,"color":"#000000"},"encoding":{"x":{"field":"c","type":"quantitative","scale":{"domain":[-0.37,12.05],"nice":false,"zero":false},"axis":{"orient":"bottom","tickCount":12,"labels":false,"domain":false,"tickSize":-4,"title":null}},"y":{"field":"d","type":"quantitative","scale":{"domain":[0,133.2],"nice":false,"zero":false},"axis":{"orient":"left","tickCount":27,"labels":false,"domain":false,"tickSize":-4,"title":null}}}},
{"mark":{"type":"point","filled":true,"clip":true,"size":14,"opacity":1,"color":"#000000"},"encoding":{"x":{"field":"c","type":"quantitative","scale":{"domain":[-0.37,12.05],"nice":false,"zero":false},"axis":{"orient":"top","tickCount":12,"labels":false,"domain":false,"tickSize":-4,"title":null}},"y":{"field":"d","type":"quantitative","scale":{"domain":[0,133.2],"nice":false,"zero":false},"axis":null}}},
{"data":{"values":[{}]},"mark":{"type":"text","text":"LHCb preliminary","align":"left","baseline":"alphabetic","fontSize":13},"encoding":{"x":{"datum":0.78,"type":"quantitative","scale":{"domain":[-0.37,12.05],"nice":false,"zero":false},"axis":null},"y":{"datum":122.7,"type":"quantitative","scale":{"domain":[0,133.2],"nice":false,"zero":false},"axis":null}}},
{"data":{"values":[{}]},"mark":{"type":"text","text":"3 fb⁻¹","align":"left","baseline":"alphabetic","fontSize":13},"encoding":{"x":{"datum":0.78,"type":"quantitative","scale":{"domain":[-0.37,12.05],"nice":false,"zero":false},"axis":null},"y":{"datum":109,"type":"quantitative","scale":{"domain":[0,133.2],"nice":false,"zero":false},"axis":null}}}
]},

{"width":3,"height":42,"data":{"values":[]},"mark":"point","view":{"fill":"#b3431f"}},
{"width":34,"height":42,"data":{"values":[]},"mark":"point","view":{"fill":"#cccccc"}},
{"width":34,"height":42,"data":{"values":[]},"mark":"point"},
{"width":283,"height":42,"data":{"name":"d"},"resolve":{"axis":{"x":"independent","y":"independent"}},"layer":[
{"data":{"name":"L2"},"mark":{"type":"rule","strokeDash":[2,3],"strokeWidth":1.5,"color":"#000000"},"encoding":{"y":{"field":"yv","type":"quantitative","scale":{"domain":[-3.03,3.12],"nice":false,"zero":false},"axis":null}}},
{"data":{"values":[{}]},"mark":{"type":"rule","strokeWidth":1.3,"color":"#000000"},"encoding":{"y":{"datum":0,"type":"quantitative","scale":{"domain":[-3.03,3.12],"nice":false,"zero":false},"axis":null}}},
{"mark":{"type":"rule","clip":true,"strokeWidth":3,"color":"#000000"},"encoding":{"x":{"field":"lo","type":"quantitative","scale":{"domain":[-2.03,10.77],"nice":false,"zero":false},"axis":{"orient":"bottom","values":[0,5,10],"tickSize":-8,"labelPadding":12,"labelFontSize":12,"title":"Missing mass² (GeV / c²)²","titleFontSize":12,"titleAnchor":"end","titlePadding":3}},"x2":{"field":"hi"},"y":{"field":"u","type":"quantitative","scale":{"domain":[-3.03,3.12],"nice":false,"zero":false},"axis":{"orient":"left","values":[-2,0,2],"tickSize":-8,"labelPadding":11,"labelFontSize":12,"title":"Pull","titleFontSize":13,"titlePadding":3}}}},
{"mark":{"type":"line","interpolate":"step","clip":true,"strokeWidth":3,"color":"#000000"},"encoding":{"x":{"field":"c","type":"quantitative","scale":{"domain":[-2.03,10.77],"nice":false,"zero":false},"axis":{"orient":"top","values":[0,5,10],"labels":false,"tickSize":-8,"title":null}},"y":{"field":"u","type":"quantitative","scale":{"domain":[-3.03,3.12],"nice":false,"zero":false},"axis":{"orient":"right","values":[-2,0,2],"labels":false,"tickSize":-8,"title":null}}}},
{"mark":{"type":"tick","opacity":0},"encoding":{"x":{"field":"c","type":"quantitative","scale":{"domain":[-2.03,10.77],"nice":false,"zero":false},"axis":{"orient":"bottom","tickCount":13,"labels":false,"domain":false,"tickSize":-4,"title":null}},"y":{"field":"u","type":"quantitative","scale":{"domain":[-3.03,3.12],"nice":false,"zero":false},"axis":{"orient":"left","tickCount":12,"labels":false,"domain":false,"tickSize":-3,"title":null}}}}
]},
{"width":59,"height":42,"data":{"values":[]},"mark":"point"},
{"width":283,"height":42,"data":{"name":"e"},"resolve":{"axis":{"x":"independent","y":"independent"}},"layer":[
{"data":{"name":"L2"},"mark":{"type":"rule","strokeDash":[2,3],"strokeWidth":1.5,"color":"#000000"},"encoding":{"y":{"field":"yv","type":"quantitative","scale":{"domain":[-3.6,3.7],"nice":false,"zero":false},"axis":null}}},
{"data":{"values":[{}]},"mark":{"type":"rule","strokeWidth":1.3,"color":"#000000"},"encoding":{"y":{"datum":0,"type":"quantitative","scale":{"domain":[-3.6,3.7],"nice":false,"zero":false},"axis":null}}},
{"mark":{"type":"rule","clip":true,"strokeWidth":3,"color":"#000000"},"encoding":{"x":{"field":"lo","type":"quantitative","scale":{"domain":[100,2650],"nice":false,"zero":false},"axis":{"orient":"bottom","values":[1000,2000],"tickSize":-8,"labelPadding":12,"labelFontSize":12,"title":"Eμ (MeV)","titleFontSize":12,"titleAnchor":"end","titlePadding":3}},"x2":{"field":"hi"},"y":{"field":"u","type":"quantitative","scale":{"domain":[-3.6,3.7],"nice":false,"zero":false},"axis":{"orient":"left","values":[-2,0,2],"tickSize":-8,"labelPadding":11,"labelFontSize":12,"title":"Pull","titleFontSize":13,"titlePadding":3}}}},
{"mark":{"type":"line","interpolate":"step","clip":true,"strokeWidth":3,"color":"#000000"},"encoding":{"x":{"field":"c","type":"quantitative","scale":{"domain":[100,2650],"nice":false,"zero":false},"axis":{"orient":"top","values":[1000,2000],"labels":false,"tickSize":-8,"title":null}},"y":{"field":"u","type":"quantitative","scale":{"domain":[-3.6,3.7],"nice":false,"zero":false},"axis":{"orient":"right","values":[-2,0,2],"labels":false,"tickSize":-8,"title":null}}}},
{"mark":{"type":"tick","opacity":0},"encoding":{"x":{"field":"c","type":"quantitative","scale":{"domain":[100,2650],"nice":false,"zero":false},"axis":{"orient":"bottom","tickCount":26,"labels":false,"domain":false,"tickSize":-4,"title":null}},"y":{"field":"u","type":"quantitative","scale":{"domain":[-3.6,3.7],"nice":false,"zero":false},"axis":{"orient":"left","tickCount":14,"labels":false,"domain":false,"tickSize":-3,"title":null}}}}
]},
{"width":58,"height":42,"data":{"values":[]},"mark":"point"},
{"width":271,"height":42,"data":{"name":"f"},"resolve":{"axis":{"x":"independent","y":"independent"}},"layer":[
{"data":{"name":"L2"},"mark":{"type":"rule","strokeDash":[2,3],"strokeWidth":1.5,"color":"#000000"},"encoding":{"y":{"field":"yv","type":"quantitative","scale":{"domain":[-2.92,3.0],"nice":false,"zero":false},"axis":null}}},
{"data":{"values":[{}]},"mark":{"type":"rule","strokeWidth":1.3,"color":"#000000"},"encoding":{"y":{"datum":0,"type":"quantitative","scale":{"domain":[-2.92,3.0],"nice":false,"zero":false},"axis":null}}},
{"mark":{"type":"rule","clip":true,"strokeWidth":3,"color":"#000000"},"encoding":{"x":{"field":"lo","type":"quantitative","scale":{"domain":[-0.37,12.05],"nice":false,"zero":false},"axis":{"orient":"bottom","values":[0,5,10],"tickSize":-8,"labelPadding":12,"labelFontSize":12,"title":"q² (GeV / c²)²","titleFontSize":12,"titleAnchor":"end","titlePadding":3}},"x2":{"field":"hi"},"y":{"field":"u","type":"quantitative","scale":{"domain":[-2.92,3.0],"nice":false,"zero":false},"axis":{"orient":"left","values":[-2,0,2],"tickSize":-8,"labelPadding":11,"labelFontSize":12,"title":"Pull","titleFontSize":13,"titlePadding":3}}}},
{"mark":{"type":"line","interpolate":"step","clip":true,"strokeWidth":3,"color":"#000000"},"encoding":{"x":{"field":"c","type":"quantitative","scale":{"domain":[-0.37,12.05],"nice":false,"zero":false},"axis":{"orient":"top","values":[0,5,10],"labels":false,"tickSize":-8,"title":null}},"y":{"field":"u","type":"quantitative","scale":{"domain":[-2.92,3.0],"nice":false,"zero":false},"axis":null}}},
{"mark":{"type":"tick","opacity":0},"encoding":{"x":{"field":"c","type":"quantitative","scale":{"domain":[-0.37,12.05],"nice":false,"zero":false},"axis":{"orient":"bottom","tickCount":12,"labels":false,"domain":false,"tickSize":-4,"title":null}},"y":{"field":"u","type":"quantitative","scale":{"domain":[-2.92,3.0],"nice":false,"zero":false},"axis":{"orient":"left","tickCount":12,"labels":false,"domain":false,"tickSize":-3,"title":null}}}}
]},

{"width":3,"height":32,"data":{"values":[]},"mark":"point","view":{"fill":"#b3431f"}},
{"width":34,"height":32,"data":{"values":[]},"mark":"point","view":{"fill":"#cccccc"}},
{"width":34,"height":32,"data":{"values":[]},"mark":"point"},
{"width":283,"height":32,"data":{"values":[]},"mark":"point"},
{"width":59,"height":32,"data":{"values":[]},"mark":"point"},
{"width":283,"height":32,"data":{"values":[]},"mark":"point"},
{"width":58,"height":32,"data":{"values":[]},"mark":"point"},
{"width":271,"height":32,"data":{"values":[]},"mark":"point"},

{"width":3,"height":7,"data":{"values":[]},"mark":"point","view":{"fill":"#b3431f"}},
{"width":34,"height":7,"data":{"values":[]},"mark":"point","view":{"fill":"#cccccc"}},
{"width":34,"height":7,"data":{"values":[]},"mark":"point","view":{"fill":"#cccccc"}},
{"width":283,"height":7,"data":{"values":[]},"mark":"point","view":{"fill":"#cccccc"}},
{"width":59,"height":7,"data":{"values":[]},"mark":"point","view":{"fill":"#cccccc"}},
{"width":283,"height":7,"data":{"values":[]},"mark":"point","view":{"fill":"#cccccc"}},
{"width":58,"height":7,"data":{"values":[]},"mark":"point","view":{"fill":"#cccccc"}},
{"width":271,"height":7,"data":{"values":[]},"mark":"point","view":{"fill":"#cccccc"}}
]
}
